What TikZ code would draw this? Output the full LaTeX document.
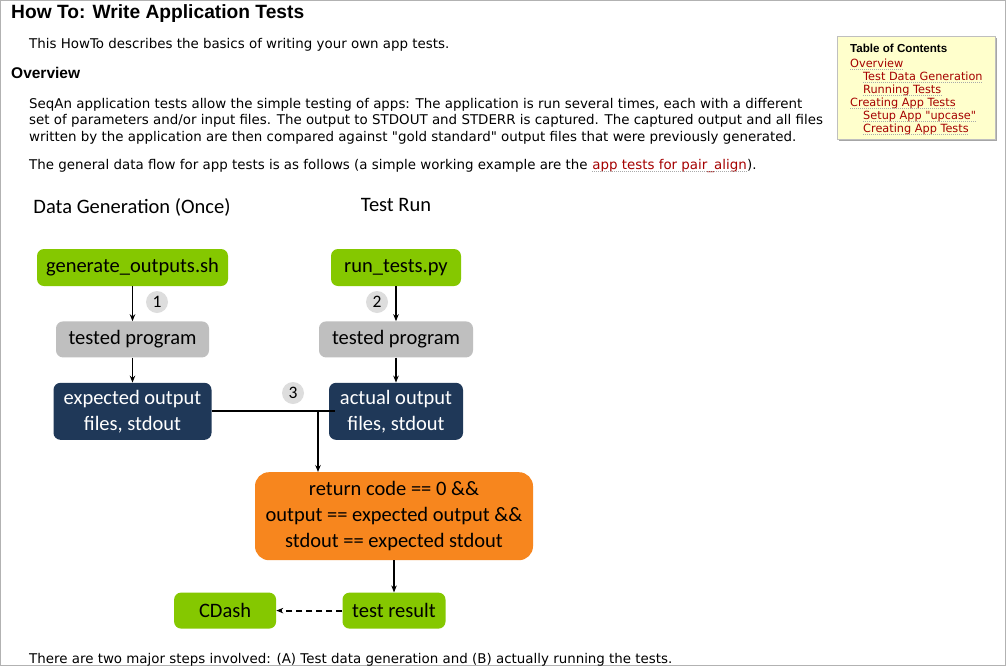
\documentclass[tikz,border=0pt]{standalone}
\usepackage{fontspec}
\setmainfont{DejaVu Sans}[Ligatures=TeXOff]
\newfontfamily\diafont{Carlito}
\newfontfamily\headfont{Liberation Sans}
\usetikzlibrary{positioning,arrows.meta}
\definecolor{appgreen}{RGB}{133,200,0}
\definecolor{proggray}{RGB}{191,191,191}
\definecolor{outnavy}{RGB}{31,56,88}
\definecolor{chkorange}{RGB}{247,134,30}
\definecolor{numgray}{RGB}{221,221,221}
\definecolor{linkred}{RGB}{165,0,0}
\definecolor{dotgray}{RGB}{170,170,170}
\definecolor{tocyellow}{RGB}{255,255,204}
\tikzset{
  lnk/.style={text=linkred, inner sep=0pt, anchor=base west,
              append after command={
                ([yshift=-2.5pt]\tikzlastnode.base west)
                  edge[draw=dotgray, line width=.6pt, dash pattern=on .8pt off 1.2pt]
                ([yshift=-2.5pt]\tikzlastnode.base east)}},
}
\begin{document}
\begin{tikzpicture}[
  x=1pt, y=-1pt,
  txt/.style={anchor=base west, inner sep=0pt, font=\fontsize{13.4}{16}\selectfont},
  tocitem/.style={lnk, font=\fontsize{11.3}{13}\selectfont},
  head/.style={anchor=base, inner sep=0pt, font=\diafont\fontsize{20.5}{26}\selectfont},
  box/.style={rectangle, rounded corners=7pt, inner xsep=3pt, inner ysep=0pt,
              align=center, font=\diafont\fontsize{20.5}{26}\selectfont},
  gbox/.style={box, fill=appgreen, minimum height=37pt},
  pbox/.style={box, fill=proggray, minimum height=36pt},
  nbox/.style={box, fill=outnavy, text=white, minimum height=57pt},
  obox/.style={box, fill=chkorange, rounded corners=14pt, minimum height=88pt},
  num/.style={circle, fill=numgray, minimum size=22pt, inner sep=0pt,
              font=\diafont\fontsize{17.5}{20}\selectfont},
  line/.style={line width=2pt},
  arr/.style={-{Stealth[length=7pt,width=5.5pt]}, line width=1.8pt},
  darr/.style={-{Stealth[length=7pt,width=5.5pt]}, line width=1.8pt, dash pattern=on 6pt off 4pt},
]
  \useasboundingbox (0,0) rectangle (1007,667);
  \fill[white] (0,0) rectangle (1007,667);
  \draw[gray!60, line width=1.2pt] (0.6,0.6) rectangle (1005.4,665.4);

  % page text
  \node[anchor=base west, inner sep=0pt, font=\headfont\bfseries\fontsize{19.2}{22}\selectfont] (title) at (11,18) {How To: Write Application Tests};
  \node[txt] (intro) at (29,48) {This HowTo describes the basics of writing your own app tests.};
  \node[anchor=base west, inner sep=0pt, font=\headfont\bfseries\fontsize{15.5}{18}\selectfont] (ovw) at (11,78) {Overview};
  \node[txt] (p1) at (29,108) {SeqAn application tests allow the simple testing of apps: The application is run several times, each with a different};
  \node[txt] (p2) at (29,124.5) {set of parameters and/or input files. The output to STDOUT and STDERR is captured. The captured output and all files};
  \node[txt] (p3) at (29,141) {written by the application are then compared against "gold standard" output files that were previously generated.};
  \node[txt] (p4) at (29,169) {The general data flow for app tests is as follows (a simple working example are the};
  \node[lnk, font=\fontsize{13.4}{16}\selectfont] (p4lnk) at ([xshift=4.3pt]p4.base east) {app tests for pair\_align};
  \node[txt] (p4end) at (p4lnk.base east) {).};
  \node[txt] (outro) at (29,663) {There are two major steps involved: (A) Test data generation and (B) actually running the tests.};

  % table of contents
  \fill[gray!70] (839,38) rectangle (997,141);
  \filldraw[fill=tocyellow, draw=gray!50] (837,36) rectangle (995,139);
  \node[anchor=base west, inner sep=0pt, font=\headfont\bfseries\fontsize{11.6}{13}\selectfont] (toc) at (850,52) {Table of Contents};
  \node[tocitem] (t1) at (850,67) {Overview};
  \node[tocitem] (t2) at (863,80) {Test Data Generation};
  \node[tocitem] (t3) at (863,93) {Running Tests};
  \node[tocitem] (t4) at (850,106) {Creating App Tests};
  \node[tocitem] (t5) at (863,119) {Setup App "upcase"};
  \node[tocitem] (t6) at (863,132) {Creating App Tests};

  % diagram
  \node[head] (hgen) at (132,213) {Data Generation (Once)};
  \node[head] (hrun) at (396,211) {Test Run};

  \node[gbox, minimum width=191pt] (gen) at (132.5,267.5) {generate\_outputs.sh};
  \node[gbox, minimum width=130pt] (run) at (396,267.5) {run\_tests.py};
  \node[pbox, minimum width=153pt, below=35pt of gen] (tp1) {tested program};
  \node[pbox, minimum width=154pt, below=35pt of run] (tp2) {tested program};
  \node[nbox, minimum width=158pt, below=25pt of tp1] (exp) {expected output\\files, stdout};
  \node[nbox, minimum width=134pt, below=25pt of tp2] (act) {actual output\\files, stdout};
  \node[obox, minimum width=278pt, below=32pt of act, xshift=-2pt] (chk) {return code == 0 \&\&\\output == expected output \&\&\\stdout == expected stdout};
  \node[gbox, minimum width=103pt, minimum height=36pt, below=32pt of chk] (res) {test result};
  \node[gbox, minimum width=102pt, minimum height=36pt, left=66pt of res] (cdash) {CDash};

  \node[num] (n1) at (157,302) {1};
  \node[num] (n2) at (377,302) {2};
  \node[num] (n3) at (293,393) {3};

  \coordinate (jn) at ([xshift=-76pt]chk.north |- exp.east);

  \draw[arr] (gen) -- (tp1);
  \draw[arr] (run) -- (tp2);
  \draw[arr] (tp1) -- (exp);
  \draw[arr] (tp2) -- (act);
  \draw[line] (exp.east) -- ([xshift=6pt]act.west);
  \draw[arr] (jn) -- (jn |- chk.north);
  \draw[arr] (chk) -- (res);
  \draw[darr] (res) -- (cdash);
\end{tikzpicture}
\end{document}
